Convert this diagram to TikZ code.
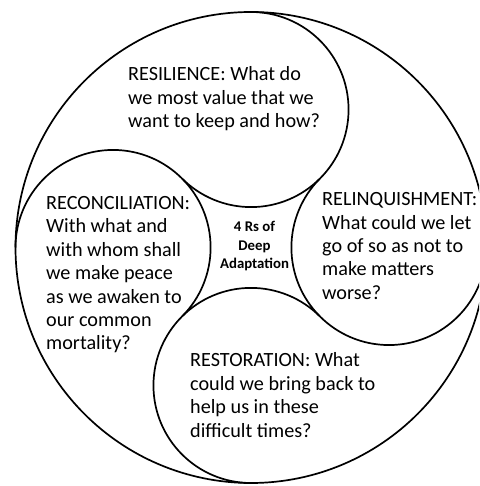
\documentclass[tikz,border=0pt]{standalone}
\usepackage{fontspec}
\setmainfont{Carlito}
\usetikzlibrary{calc}
\begin{document}
\begin{tikzpicture}[x=1pt,y=1pt,
  outline/.style={line width=1.7pt, draw=black},
  lbl/.style={anchor=base west, align=left, inner sep=0pt, font=\fontsize{20.2}{23.4}\selectfont},
  hub/.style={anchor=base, align=center, inner sep=0pt, font=\bfseries\fontsize{14.8}{18.6}\selectfont}]
\useasboundingbox (0,0) rectangle (479,486);
\clip (0,0) rectangle (479,486);
\def\bigR{235.5}
\def\smallr{97.55}
\def\offs{137.95}
\coordinate (C) at (251,238.5);
\coordinate (ctop) at ($(C)+(0,\offs)$);
\coordinate (cleft) at ($(C)+(-\offs,0)$);
\coordinate (cbot) at ($(C)+(0,-\offs)$);
\coordinate (cright) at ($(C)+(\offs,0)$);
% outer circle
\draw[outline] (C) circle[radius=\bigR];
% four swirl arcs
\draw[outline] ($(ctop)+(90:\smallr)$) arc[start angle=90, end angle=-135, radius=\smallr];
\draw[outline] ($(cleft)+(180:\smallr)$) arc[start angle=180, end angle=-45, radius=\smallr];
\draw[outline] ($(cbot)+(270:\smallr)$) arc[start angle=270, end angle=45, radius=\smallr];
\draw[outline] ($(cright)+(0:\smallr)$) arc[start angle=0, end angle=-225, radius=\smallr];
% texts (anchor = baseline of the last line)
\node[lbl] (resil) at (128,358.2) {RESILIENCE: What do\\we most value that we\\want to keep and how?};
\node[lbl] (recon) at (46,136.1) {RECONCILIATION:\\With what and\\with whom shall\\we make peace\\as we awaken to\\our common\\mortality?};
\node[hub] (hubtext) at (254.5,217) {4 Rs of\\Deep\\Adaptation};
\node[lbl] (relin) at (322,186.7) {RELINQUISHMENT:\\What could we let\\go of so as not to\\make matters\\worse?};
\node[lbl] (resto) at (190,48.8) {RESTORATION: What\\could we bring back to\\help us in these\\difficult times?};
\end{tikzpicture}
\end{document}
